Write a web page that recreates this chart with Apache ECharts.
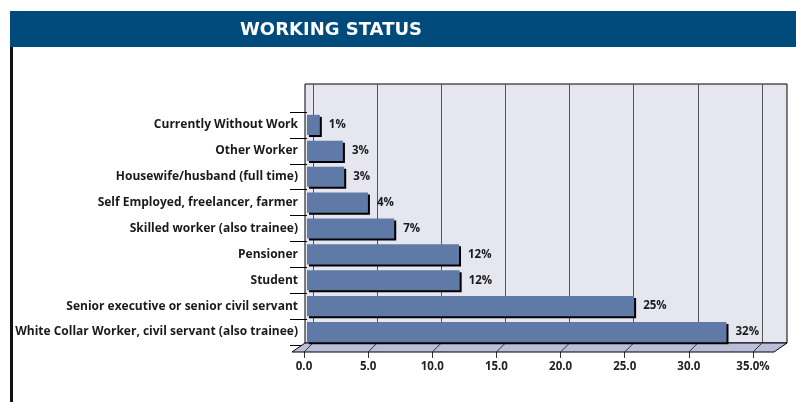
<!DOCTYPE html>
<html>
<head>
<meta charset="utf-8">
<script src="https://cdn.jsdelivr.net/npm/echarts@6/dist/echarts.min.js"></script>
<style>
  html, body { margin: 0; padding: 0; background: #fff; }
  #chart { width: 796px; height: 402px; }
</style>
</head>
<body>
<div id="chart"></div>
<script>
// rows, top to bottom
const categories = [
  'Currently Without Work',
  'Other Worker',
  'Housewife/husband (full time)',
  'Self Employed, freelancer, farmer',
  'Skilled worker (also trainee)',
  'Pensioner',
  'Student',
  'Senior executive or senior civil servant',
  'White Collar Worker, civil servant (also trainee)'
];
// bar lengths
const values = [1.0, 2.8, 2.9, 4.75, 6.8, 11.85, 11.9, 25.5, 32.7];
// printed labels
const valueLabels = ['1%', '3%', '3%', '4%', '7%', '12%', '12%', '25%', '32%'];
const tickLabels = ['0.0', '5.0', '10.0', '15.0', '20.0', '25.0', '30.0', '35.0%'];

const chart = echarts.init(document.getElementById('chart'));
const font = '"Open Sans", sans-serif';

const option = {
  animation: false,
  grid: [
    // back wall
    { show: true, left: 305, right: 9, top: 84, bottom: 59, backgroundColor: '#e6e6f0', borderColor: '#000', borderWidth: 1 },
    // gridlines on the wall
    { left: 313, width: 449, top: 84, bottom: 59 },
    // bars
    { left: 307, width: 449, top: 112, bottom: 57 },
    // front axis labels
    { left: 304, width: 449, top: 100, bottom: 50 }
  ],
  xAxis: [
    { gridIndex: 0, show: false, min: 0, max: 1 },
    {
      gridIndex: 1, type: 'value', min: 0, max: 35, interval: 5,
      axisLine: { show: false }, axisTick: { show: false }, axisLabel: { show: false },
      splitLine: { show: true, lineStyle: { color: '#555', width: 1 } }
    },
    { gridIndex: 2, type: 'value', min: 0, max: 35, interval: 5, show: false },
    {
      gridIndex: 3, type: 'value', min: 0, max: 35, interval: 5,
      axisLine: { show: false },
      splitLine: { show: false },
      axisTick: { show: true, length: 6, lineStyle: { color: '#333' } },
      axisLabel: {
        margin: 9, fontSize: 11.5, fontWeight: 'bold', color: '#222', fontFamily: font,
        formatter: v => tickLabels[Math.round(v / 5)]
      }
    }
  ],
  yAxis: [
    { gridIndex: 0, show: false, min: 0, max: 1 },
    { gridIndex: 1, show: false, min: 0, max: 1 },
    {
      gridIndex: 2, type: 'category', data: categories, inverse: true, offset: 2,
      axisLine: { show: false },
      axisTick: { show: true, length: 17, lineStyle: { color: '#000' } },
      axisLabel: { margin: 7, fontSize: 12, fontWeight: 'bold', color: '#1a1a1a', fontFamily: font }
    },
    { gridIndex: 3, show: false, min: 0, max: 1 }
  ],
  series: [{
    type: 'bar',
    xAxisIndex: 2,
    yAxisIndex: 2,
    data: values,
    barCategoryGap: '22%',
    z: 5,
    itemStyle: {
      color: '#5f7aa6',
      shadowColor: '#000',
      shadowOffsetX: 2,
      shadowOffsetY: 2,
      shadowBlur: 0
    },
    label: {
      show: true,
      position: 'right',
      distance: 9,
      fontSize: 11.5,
      fontWeight: 'bold',
      color: '#1a1a1a',
      fontFamily: font,
      formatter: p => valueLabels[p.dataIndex]
    }
  }]
};
chart.setOption(option);

// 3D floor and slanted ticks
const ticks = [0, 5, 10, 15, 20, 25, 30, 35];
const floorY = 352;
const elements = [
  { type: 'rect', shape: { x: 10, y: 11, width: 786, height: 36 }, style: { fill: '#004a7c' }, z: 10 },
  { type: 'rect', shape: { x: 10, y: 47, width: 3, height: 355 }, style: { fill: '#111' }, z: 10 },
  {
    type: 'text', x: 331, y: 30, z: 11,
    style: { text: 'WORKING STATUS', fill: '#fff', font: 'bold 18px "DejaVu Sans", sans-serif', align: 'center', verticalAlign: 'middle' }
  },
  {
    type: 'polygon', z: 1,
    shape: { points: [[292, floorY], [305, 343], [787, 343], [774, floorY]] },
    style: { fill: '#babed8', stroke: '#000', lineWidth: 1 }
  }
];
ticks.forEach(t => {
  const x = chart.convertToPixel({ xAxisIndex: 3 }, t);
  elements.push({
    type: 'line', z: 2,
    shape: { x1: x, y1: floorY, x2: x + 9, y2: 343 },
    style: { stroke: '#333', lineWidth: 1 }
  });
});
chart.setOption({ graphic: { elements: elements } });
</script>
</body>
</html>
